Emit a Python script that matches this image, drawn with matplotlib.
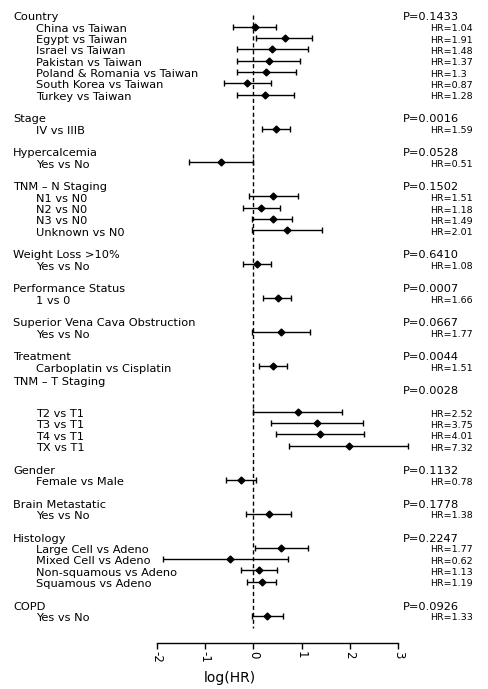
import numpy as np
import matplotlib.pyplot as plt
from matplotlib.transforms import blended_transform_factory

plt.rcParams['font.family'] = ['DejaVu Sans']

# Data: groups, comparisons, HR and CI on log scale
groups = ['Country', 'Stage', 'Hypercalcemia', 'TNM \u2013 N Staging', 'Weight Loss >10%',
          'Performance Status', 'Superior Vena Cava Obstruction', 'Treatment',
          'TNM \u2013 T Staging', 'Gender', 'Brain Metastatic', 'Histology', 'COPD']
p_values = ['0.1433', '0.0016', '0.0528', '0.1502', '0.6410', '0.0007', '0.0667',
            '0.0044', '0.0028', '0.1132', '0.1778', '0.2247', '0.0926']

labels = [
    ['China vs Taiwan', 'Egypt vs Taiwan', 'Israel vs Taiwan', 'Pakistan vs Taiwan',
     'Poland & Romania vs Taiwan', 'South Korea vs Taiwan', 'Turkey vs Taiwan'],
    ['IV vs IIIB'],
    ['Yes vs No'],
    ['N1 vs N0', 'N2 vs N0', 'N3 vs N0', 'Unknown vs N0'],
    ['Yes vs No'],
    ['1 vs 0'],
    ['Yes vs No'],
    ['Carboplatin vs Cisplatin'],
    ['', 'T2 vs T1', 'T3 vs T1', 'T4 vs T1', 'TX vs T1'],
    ['Female vs Male'],
    ['Yes vs No'],
    ['Large Cell vs Adeno', 'Mixed Cell vs Adeno', 'Non-squamous vs Adeno', 'Squamous vs Adeno'],
    ['Yes vs No'],
]
hr = [
    [1.04, 1.91, 1.48, 1.37, 1.3, 0.87, 1.28],
    [1.59],
    [0.51],
    [1.51, 1.18, 1.49, 2.01],
    [1.08],
    [1.66],
    [1.77],
    [1.51],
    [None, 2.52, 3.75, 4.01, 7.32],
    [0.78],
    [1.38],
    [1.77, 0.62, 1.13, 1.19],
    [1.33],
]
lower = [
    [-0.43, 0.06, -0.34, -0.33, -0.34, -0.61, -0.34],
    [0.17],
    [-1.33],
    [-0.09, -0.22, -0.02, -0.03],
    [-0.22],
    [0.21],
    [-0.03],
    [0.12],
    [None, 0.0, 0.37, 0.47, 0.74],
    [-0.57],
    [-0.15],
    [0.035, -1.86, -0.26, -0.14],
    [-0.03],
]
upper = [
    [0.48, 1.22, 1.13, 0.97, 0.88, 0.36, 0.85],
    [0.75],
    [0.0],
    [0.92, 0.55, 0.81, 1.42],
    [0.37],
    [0.78],
    [1.17],
    [0.70],
    [None, 1.84, 2.28, 2.29, 3.21],
    [0.056],
    [0.78],
    [1.13, 0.72, 0.50, 0.47],
    [0.61],
]
xticks = [-2, -1, 0, 1, 2, 3]

fig = plt.figure(figsize=(4.88, 6.89), dpi=100)
ax = fig.add_axes([0, 46 / 689, 1, 643 / 689])
ax.set_xlim(-5.244, 4.859)
ax.set_ylim(55.41, -1.342)

trans = blended_transform_factory(ax.transAxes, ax.transData)
fs = 8.2
toff = 0.2  # text sits a little lower than the marks

row = 0
xs, ys, lo, hi = [], [], [], []
for g, name in enumerate(groups):
    hoff = -0.8 if name.startswith('TNM \u2013 T') else 0
    ax.text(0.0273, row + toff + hoff, name, transform=trans, fontsize=fs, va='center', ha='left')
    ax.text(0.8264, row + toff, 'P=' + p_values[g], transform=trans, fontsize=fs, va='center', ha='left')
    row += 1
    for lab, h, l, u in zip(labels[g], hr[g], lower[g], upper[g]):
        if h is not None:
            ax.text(0.0732, row + toff, lab, transform=trans, fontsize=fs, va='center', ha='left')
            ax.text(0.881, row + toff, 'HR=' + str(h), transform=trans, fontsize=6.8, va='center', ha='left')
            xs.append(np.log(h))
            ys.append(row)
            lo.append(l)
            hi.append(u)
        row += 1
    row += 1

xs = np.array(xs)
err = np.array([xs - np.array(lo), np.array(hi) - xs])
ax.errorbar(xs, ys, xerr=err, fmt='D', color='black', ms=3.5, lw=1, capsize=2.2, capthick=1)
ax.vlines(0, 0, 54.1, colors='black', linestyles=(0, (3, 2)), lw=1)

for s in ['top', 'left', 'right']:
    ax.spines[s].set_visible(False)
ax.spines['bottom'].set_bounds(-2, 3)
ax.spines['bottom'].set_linewidth(1)
ax.set_yticks([])
ax.set_xticks(xticks)
ax.set_xticklabels([str(t) for t in xticks], rotation=270, fontsize=8.5)
ax.tick_params(axis='x', direction='out', length=4, width=1, pad=2)
ax.set_xlabel('log(HR)', fontsize=10)
ax.xaxis.set_label_coords(0.471, -0.043)

fig.savefig('out.png', dpi=100)
